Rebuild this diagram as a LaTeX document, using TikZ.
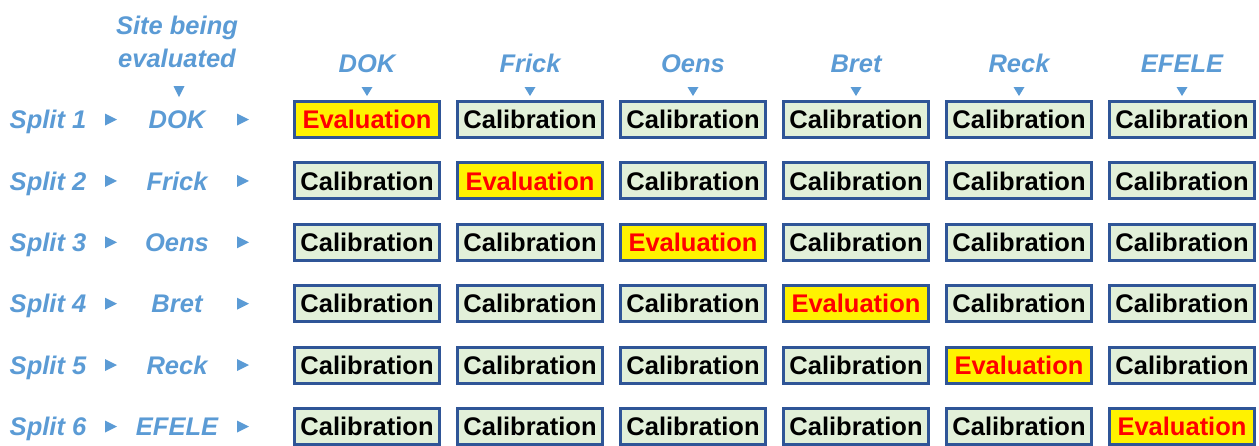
\documentclass[tikz,border=0pt]{standalone}
\usepackage{fontspec}
\setmainfont{Liberation Sans}
\definecolor{lblue}{HTML}{5B9BD5}
\definecolor{bordblue}{HTML}{2F5597}
\definecolor{calfill}{HTML}{E2F0D9}
\begin{document}
\begin{tikzpicture}[x=1pt,y=-1pt,
  lbl/.style={text=lblue,font=\fontsize{25.5}{28}\selectfont\bfseries\itshape,anchor=base,inner sep=0pt},
  cellbox/.style={draw=bordblue,line width=3pt,minimum width=145pt,minimum height=36pt,inner sep=0pt,
     font=\fontsize{25.5}{28}\selectfont\bfseries},
  calbox/.style={cellbox,fill=calfill,text=black},
  evalbox/.style={cellbox,fill=yellow,text=red},
  tridown/.style={fill=lblue},
]
\useasboundingbox (0,0) rectangle (1259,445);
% header for site column
\node[lbl] (sitehead1) at (177,34) {Site being};
\node[lbl] (sitehead2) at (177,67) {evaluated};
\fill[lblue] (173.5,86) -- (184.5,86) -- (179,97) -- cycle;
% column headers
\foreach \name [count=\i from 0] in {DOK,Frick,Oens,Bret,Reck,EFELE}{
  \pgfmathsetmacro{\cx}{367+163*\i}
  \node[lbl] (col\i) at (\cx,72) {\name};
  \fill[lblue] (\cx-5.5,87) -- (\cx+5.5,87) -- (\cx,96) -- cycle;
}
% rows
\foreach \name [count=\j from 0] in {DOK,Frick,Oens,Bret,Reck,EFELE}{
  \pgfmathsetmacro{\cy}{119.5+61.4*\j}
  \pgfmathtruncatemacro{\sn}{\j+1}
  \node[lbl] (split\j) at (48,\cy+9.1) {Split \sn};
  \fill[lblue] (105,\cy-6) -- (117,\cy) -- (105,\cy+6) -- cycle;
  \node[lbl] (site\j) at (177,\cy+9.1) {\name};
  \fill[lblue] (237,\cy-6) -- (249,\cy) -- (237,\cy+6) -- cycle;
  \foreach \i in {0,...,5}{
    \pgfmathsetmacro{\cx}{367+163*\i}
    \ifnum\i=\j
      \node[evalbox] (box-\i-\j) at (\cx,\cy) {Evaluation};
    \else
      \node[calbox] (box-\i-\j) at (\cx,\cy) {Calibration};
    \fi
  }
}
\end{tikzpicture}
\end{document}
